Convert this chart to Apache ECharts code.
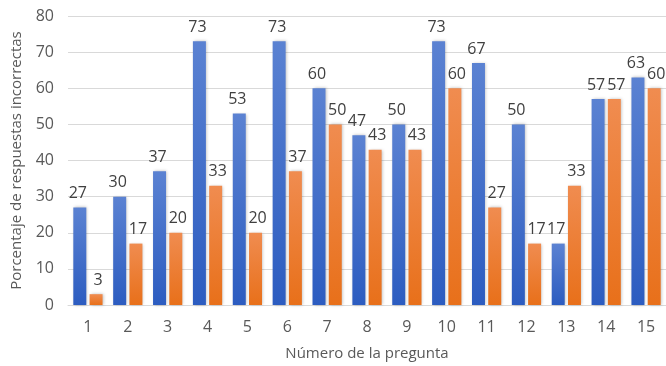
<!DOCTYPE html>
<html>
<head>
<meta charset="utf-8">
<script src="https://cdn.jsdelivr.net/npm/echarts@6/dist/echarts.min.js"></script>
<style>
  html, body { margin: 0; padding: 0; background: #fff; }
  #chart { width: 666px; height: 366px; }
</style>
</head>
<body>
<div id="chart"></div>
<script>
// Question numbers and the share of wrong answers per group
const preguntas = ['1','2','3','4','5','6','7','8','9','10','11','12','13','14','15'];
const serieAzul = [27, 30, 37, 73, 53, 73, 60, 47, 50, 73, 67, 50, 17, 57, 63];
const serieNaranja = [3, 17, 20, 33, 20, 37, 50, 43, 43, 60, 27, 17, 33, 57, 60];
const ticksY = [0, 10, 20, 30, 40, 50, 60, 70, 80];

const fuente = '"Open Sans", "Noto Sans", sans-serif';

function degradado(arriba, abajo) {
  return new echarts.graphic.LinearGradient(0, 0, 0, 1, [
    { offset: 0, color: arriba },
    { offset: 1, color: abajo }
  ]);
}

// Value labels; the two series lean slightly apart so equal-height pairs don't collide
function etiqueta(dx) {
  return {
    show: true,
    position: 'top',
    distance: 6,
    offset: [dx, 0],
    color: '#404040',
    fontSize: 16,
    fontFamily: fuente
  };
}

const chart = echarts.init(document.getElementById('chart'));
chart.setOption({
  animation: false,
  grid: { left: 68, right: 0, top: 16, bottom: 59 },
  xAxis: {
    type: 'category',
    data: preguntas,
    name: 'Número de la pregunta',
    nameLocation: 'middle',
    nameGap: 41,
    nameTextStyle: { color: '#595959', fontSize: 15, fontFamily: fuente },
    axisLine: { lineStyle: { color: '#d9d9d9' } },
    axisTick: { show: false },
    axisLabel: { color: '#595959', fontSize: 16, fontFamily: fuente, margin: 14 }
  },
  yAxis: {
    type: 'value',
    min: ticksY[0],
    max: ticksY[ticksY.length - 1],
    interval: 10,
    name: 'Porcentaje de respuestas incorrectas',
    nameLocation: 'middle',
    nameGap: 44,
    nameTextStyle: { color: '#595959', fontSize: 15, fontFamily: fuente },
    axisLine: { show: false },
    axisTick: { show: false },
    axisLabel: { color: '#595959', fontSize: 16, fontFamily: fuente, margin: 14 },
    splitLine: { lineStyle: { color: '#d9d9d9', width: 1 } }
  },
  series: [
    {
      type: 'bar',
      data: serieAzul,
      barWidth: 13,
      barGap: '25%',
      itemStyle: {
        color: degradado('#5b82d2', '#2c5cc0'),
        shadowColor: 'rgba(0,0,0,0.25)',
        shadowBlur: 3,
        shadowOffsetX: 1,
        shadowOffsetY: 0
      },
      label: etiqueta(-2)
    },
    {
      type: 'bar',
      data: serieNaranja,
      barWidth: 13,
      itemStyle: {
        color: degradado('#f08c50', '#e8701a'),
        shadowColor: 'rgba(0,0,0,0.25)',
        shadowBlur: 3,
        shadowOffsetX: 1,
        shadowOffsetY: 0
      },
      label: etiqueta(2)
    }
  ]
});
</script>
</body>
</html>
